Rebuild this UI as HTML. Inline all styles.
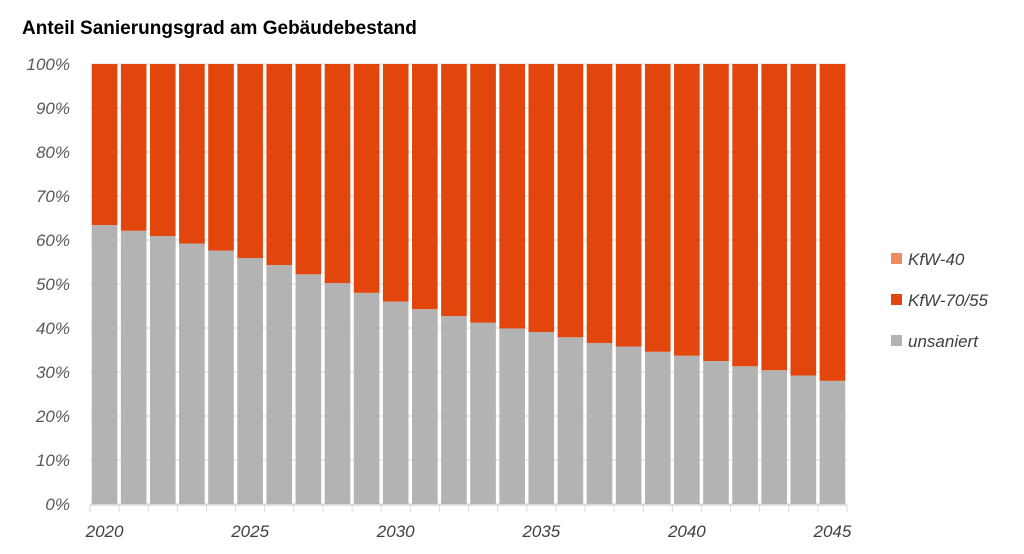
<!DOCTYPE html>
<html><head><meta charset="utf-8"><style>
body{margin:0;background:#fff;font-family:"Liberation Sans",Arial,sans-serif;}
svg text{font-family:"Liberation Sans",Arial,sans-serif;}
</style></head><body>
<svg id="c" width="1024" height="549" xmlns="http://www.w3.org/2000/svg">
<text x="22" y="34" font-size="19" font-weight="bold" fill="#000">Anteil Sanierungsgrad am Gebäudebestand</text>
<g id="grid"></g><g id="bars"></g><g id="axes"></g><g id="legend"></g>
</svg>
<script>
const years=[2020,2021,2022,2023,2024,2025,2026,2027,2028,2029,2030,2031,2032,2033,2034,2035,2036,2037,2038,2039,2040,2041,2042,2043,2044,2045];
const unsaniert=[63.4,62.1,60.9,59.2,57.6,55.9,54.3,52.2,50.2,48.0,46.0,44.3,42.7,41.2,39.9,39.1,37.9,36.6,35.8,34.6,33.7,32.5,31.3,30.4,29.2,28.0];
const kfw40=[0,0,0,0,0,0,0,0,0,0,0,0,0,0,0,0,0,0,0,0,0,0,0,0,0,0];
const yTicks=[0,10,20,30,40,50,60,70,80,90,100];
const xLabelYears=[2020,2025,2030,2035,2040,2045];
const kfw7055=unsaniert.map((u,i)=>100-u-kfw40[i]);

const NS="http://www.w3.org/2000/svg";
const x0=90,x1=847,y0=504,y1=64;
const band=(x1-x0)/years.length, bw=band*0.88;
const Y=v=>y0-(v/100)*(y0-y1);
const X=i=>x0+i*band;
function mk(tag,attrs,parent,txt){const e=document.createElementNS(NS,tag);for(const k in attrs)e.setAttribute(k,attrs[k]);if(txt!==undefined)e.textContent=txt;document.getElementById(parent).appendChild(e);return e;}

yTicks.forEach(t=>{
  const l=mk('line',{x1:x0,x2:x1,y1:Y(t),y2:Y(t),stroke:'#d9d9d9','stroke-width':1},'grid');
  
  
  const tx=mk('text',{x:70,y:Y(t)+6,'text-anchor':'end','font-size':17,'font-style':'italic',fill:'#595959'},'axes',t+'%');
  
  
});

years.forEach((yr,i)=>{
  const bx=X(i)+(band-bw)/2;
  const segs=[[unsaniert[i],'#b3b3b3','unsaniert'],[kfw40[i],'#f08a61','kfw-40'],[kfw7055[i],'#e2460d','kfw-70-55']];
  let base=0;
  segs.forEach(([v,c,n])=>{
    if(v>0){
      const r=mk('rect',{x:bx,y:Y(base+v),width:bw,height:Y(base)-Y(base+v),fill:c},'bars');
      
      
    }
    base+=v;
  });
});

const ax=mk('line',{x1:x0,x2:x1,y1:y0+1,y2:y0+1,stroke:'#d9d9d9','stroke-width':1.5},'axes');


for(let i=0;i<=years.length;i++){
  const tk=mk('line',{x1:X(i),x2:X(i),y1:y0+1,y2:y0+8,stroke:'#d9d9d9','stroke-width':1},'axes');
  
  
}
xLabelYears.forEach(yr=>{
  const i=years.indexOf(yr);
  const tx=mk('text',{x:X(i)+band/2,y:537,'text-anchor':'middle','font-size':17,'font-style':'italic',fill:'#404040'},'axes',String(yr));
  
  
});

const leg=[['KfW-40','#f08a61',259],['KfW-70/55','#e2460d',300],['unsaniert','#b3b3b3',341]];
leg.forEach(([n,c,y])=>{
  const r=mk('rect',{x:891,y:y-6,width:11,height:11,fill:c},'legend');
  
  
  const t=mk('text',{x:908,y:y+6,'font-size':17,'font-style':'italic',fill:'#404040'},'legend',n);
  
  
});
</script>
</body></html>
